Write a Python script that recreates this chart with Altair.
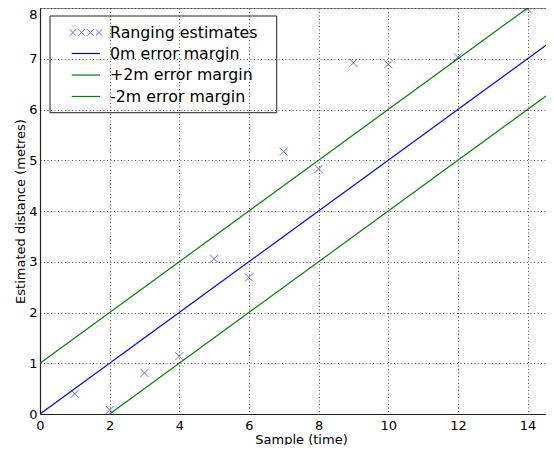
import altair as alt
import pandas as pd

# ---- data ----
sample = [1, 2, 3, 4, 5, 6, 7, 8, 9, 10, 12, 14]
estimate = [0.40, 0.08, 0.81, 1.14, 3.06, 2.69, 5.17, 4.83, 6.92, 6.89, 7.03, 7.98]

line_names = ["0m error margin", "+2m error margin", "-2m error margin"]
line_x_start = [0, 0, 2]
line_y_start = [0, 1, 0]
line_x_end = [16, 14, 16]
line_y_end = [8, 8, 7]
line_colors = ["#0000ff", "#008000", "#008000"]

legend_labels = ["Ranging estimates"] + line_names
x_ticks = [0, 2, 4, 6, 8, 10, 12, 14]
y_ticks = [0, 1, 2, 3, 4, 5, 6, 7, 8]

W, H = 506, 406
X_MAX = 14.53
FONT = "DejaVu Sans"
X_PATH = "M-1,-1L1,1M-1,1L1,-1"
X4_PATH = "".join(
    f"M{c-0.2:.2f},-0.2L{c+0.2:.2f},0.2M{c-0.2:.2f},0.2L{c+0.2:.2f},-0.2"
    for c in (-0.78, -0.26, 0.26, 0.78)
)

pts = pd.DataFrame({"sample": sample, "estimate": estimate})
lines = pd.DataFrame({
    "series": line_names,
    "x0": line_x_start, "y0": line_y_start,
    "x1": line_x_end, "y1": line_y_end,
})

xscale = alt.Scale(domain=[0, X_MAX], nice=False, zero=False)
yscale = alt.Scale(domain=[0, 8], nice=False, zero=False)

xaxis = alt.Axis(values=x_ticks, title="Sample (time)", labelPadding=5,
                 titleX=261, titleY=29, titleAlign="center",
                 titleBaseline="alphabetic", labelFlush=False)
yaxis = alt.Axis(values=y_ticks, title="Estimated distance (metres)",
                 labelPadding=3, titleX=-16, titleY=203, titleAngle=270,
                 titleAlign="center", titleBaseline="alphabetic",
                 labelFlush=False,
                 labelBaseline={"condition": {"test": "datum.value == 8", "value": "top"},
                                "value": "middle"})

line_layer = alt.Chart(lines).mark_rule(clip=True, strokeWidth=1.2).encode(
    x=alt.X("x0:Q", scale=xscale, axis=xaxis),
    x2="x1:Q",
    y=alt.Y("y0:Q", scale=yscale, axis=yaxis),
    y2="y1:Q",
    color=alt.Color("series:N", scale=alt.Scale(domain=line_names, range=line_colors),
                    legend=None),
)

point_layer = alt.Chart(pts).mark_point(
    shape=X_PATH, size=64, filled=False, color="#0000ff", strokeWidth=1,
    opacity=0.6, clip=True
).encode(
    x=alt.X("sample:Q", scale=xscale, axis=xaxis),
    y=alt.Y("estimate:Q", scale=yscale, axis=yaxis),
)

one = pd.DataFrame({"a": [0]})
top_frame = alt.Chart(one).mark_rule(color="#222", strokeWidth=1.2).encode(
    x=alt.value(0), x2=alt.value(W), y=alt.value(0)
)

# ---- legend ----
row_y = [24.5, 45.5, 67, 88.5]
leg_layers = [
    alt.Chart(one).mark_rect(filled=False, stroke="#222", strokeWidth=1).encode(
        x=alt.value(10), x2=alt.value(236.7), y=alt.value(8), y2=alt.value(104.7)
    ),
    alt.Chart(one).mark_point(shape=X4_PATH, size=33.4 ** 2, filled=False,
                              color="#0000ff", strokeWidth=1, opacity=0.6).encode(
        x=alt.value(46), y=alt.value(row_y[0])
    ),
]
for i, name in enumerate(line_names):
    leg_layers.append(
        alt.Chart(one).mark_rule(color=line_colors[i], strokeWidth=1.2).encode(
            x=alt.value(31.7), x2=alt.value(60), y=alt.value(row_y[i + 1])
        )
    )
for i, lab in enumerate(legend_labels):
    leg_layers.append(
        alt.Chart(pd.DataFrame({"label": [lab]})).mark_text(
            font=FONT, fontSize=15.8, align="left", baseline="alphabetic", color="black"
        ).encode(text="label:N", x=alt.value(70), y=alt.value(row_y[i] + 5.3))
    )

chart = alt.layer(line_layer, point_layer, top_frame, *leg_layers).properties(
    width=W, height=H,
    autosize=alt.AutoSizeParams(type="none"),
    padding={"left": 32, "top": 0, "right": 0, "bottom": 31},
).configure_view(stroke="transparent").configure_axis(
    labelFont=FONT, titleFont=FONT, labelFontSize=13, titleFontSize=13,
    labelColor="black", titleColor="black", titleFontWeight="normal",
    grid=True, gridColor="black", gridDash=[1, 2.5], gridWidth=0.8, gridOpacity=0.85,
    domainColor="#222", domainWidth=1.2, ticks=False,
)

chart.save("out.html", embed_options={"renderer": "svg", "actions": False})
